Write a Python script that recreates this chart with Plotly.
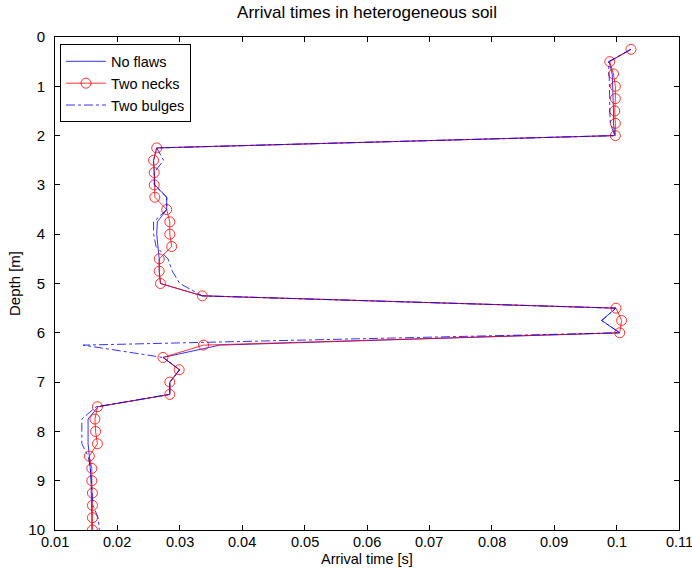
import plotly.graph_objects as go

depth = [0.25, 0.5, 0.75, 1.0, 1.25, 1.5, 1.75, 2.0, 2.25, 2.5, 2.75, 3.0, 3.25, 3.5, 3.75, 4.0,
         4.25, 4.5, 4.75, 5.0, 5.25, 5.5, 5.75, 6.0, 6.25, 6.5, 6.75, 7.0, 7.25, 7.5, 7.75, 8.0,
         8.25, 8.5, 8.75, 9.0, 9.25, 9.5, 9.75, 10.0]

no_flaws = [0.1023, 0.0988, 0.0993, 0.0994, 0.0994, 0.0995, 0.0995, 0.0997, 0.0263, 0.0258, 0.0259, 0.0260,
            0.0279, 0.0279, 0.0264, 0.0263, 0.0265, 0.0267, 0.0267, 0.0269, 0.0336, 0.0999, 0.0976, 0.1005,
            0.0364, 0.0273, 0.0300, 0.0284, 0.0284, 0.0169, 0.0153, 0.0153, 0.0153, 0.0155, 0.0157, 0.0158,
            0.0158, 0.0159, 0.0159, 0.0159]

two_necks = [0.1023, 0.0989, 0.0995, 0.0998, 0.0998, 0.0997, 0.0998, 0.0998, 0.0263, 0.0258, 0.0259, 0.0259,
             0.0260, 0.0279, 0.0284, 0.0284, 0.0287, 0.0267, 0.0267, 0.0269, 0.0336, 0.0999, 0.1008, 0.1005,
             0.0338, 0.0273, 0.0299, 0.0284, 0.0284, 0.0168, 0.0164, 0.0165, 0.0168, 0.0155, 0.0159, 0.0159,
             0.0160, 0.0160, 0.0160, 0.0160]

two_bulges = [0.1023, 0.0987, 0.0988, 0.0989, 0.0989, 0.0989, 0.0990, 0.0997, 0.0263, 0.0274, 0.0259, 0.0259,
              0.0279, 0.0279, 0.0258, 0.0258, 0.0262, 0.0281, 0.0288, 0.0300, 0.0336, 0.0999, 0.0976, 0.1005,
              0.0145, 0.0273, 0.0300, 0.0284, 0.0284, 0.0166, 0.0143, 0.0143, 0.0143, 0.0153, 0.0157, 0.0158,
              0.0159, 0.0161, 0.0169, 0.0171]

x_ticks = [0.01, 0.02, 0.03, 0.04, 0.05, 0.06, 0.07, 0.08, 0.09, 0.1, 0.11]
x_tick_labels = ["0.01", "0.02", "0.03", "0.04", "0.05", "0.06", "0.07", "0.08", "0.09", "0.1", "0.11"]
y_ticks = [0, 1, 2, 3, 4, 5, 6, 7, 8, 9, 10]

FONT = "Liberation Sans, Arial, sans-serif"

fig = go.Figure()
fig.add_trace(go.Scatter(x=no_flaws, y=depth, mode="lines", name="No flaws",
                         line=dict(color="#0000ff", width=0.8)))
fig.add_trace(go.Scatter(x=two_necks, y=depth, mode="lines+markers", name="Two necks",
                         line=dict(color="#ff0000", width=0.8),
                         marker=dict(symbol="circle-open", size=10, color="#ff0000",
                                     line=dict(width=0.8, color="#ff0000"))))
fig.add_trace(go.Scatter(x=two_bulges, y=depth, mode="lines", name="Two bulges",
                         line=dict(color="#0000ff", width=0.8, dash="dashdot")))

axis_common = dict(showline=True, linecolor="black", linewidth=1, mirror="ticks",
                   ticks="inside", ticklen=5, tickcolor="black", showgrid=False,
                   zeroline=False, automargin=False)

# The last x tick label sits at the right edge of the page; plotly would hide it,
# so the tick labels are shown as annotations at the tick values instead.
x_label_annotations = [
    dict(x=v, y=0, xref="x", yref="paper", text=t, showarrow=False,
         xanchor="center", yanchor="top", yshift=-2,
         font=dict(family=FONT, size=14.5, color="black"))
    for v, t in zip(x_ticks, x_tick_labels)
]

fig.update_layout(
    width=692, height=568,
    margin=dict(l=55, r=13, t=37, b=38),
    paper_bgcolor="white", plot_bgcolor="white",
    title=dict(text="Arrival times in heterogeneous soil", x=0.5, xref="paper",
               y=1 - 12 / 568, yanchor="middle",
               font=dict(family=FONT, size=17, color="black")),
    xaxis=dict(range=[0.01, 0.11], tickvals=x_ticks, showticklabels=False,
               **axis_common),
    yaxis=dict(range=[10, 0], tickvals=y_ticks, ticklabelstandoff=6,
               tickfont=dict(family=FONT, size=15, color="black"),
               title=dict(text="Depth [m]", font=dict(family=FONT, size=15, color="black"),
                          standoff=4),
               **axis_common),
    annotations=x_label_annotations + [
        dict(x=0.5, y=0, xref="paper", yref="paper", text="Arrival time [s]",
             showarrow=False, xanchor="center", yanchor="top", yshift=-19,
             font=dict(family=FONT, size=14.5, color="black"))
    ],
    legend=dict(x=0.008, y=0.985, xanchor="left", yanchor="top",
                bgcolor="white", bordercolor="black", borderwidth=1,
                font=dict(family=FONT, size=14.5, color="black"),
                tracegroupgap=0, itemwidth=40),
    showlegend=True,
)

fig.write_html("out.html")
